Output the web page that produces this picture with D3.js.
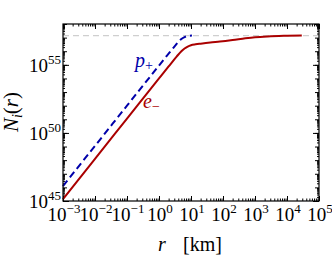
<!DOCTYPE html>
<html>
<head>
<meta charset="utf-8">
<script src="https://cdn.jsdelivr.net/npm/d3@7"></script>
<style>
  html, body { margin: 0; padding: 0; background: #fff; }
  svg, svg text { font-family: "Liberation Serif", "Times New Roman", serif; }
  svg { display: block; }
</style>
</head>
<body>
<svg id="chart" width="332" height="257" font-family="Liberation Serif, serif"></svg>
<script>
// radius [km] and particle number
const rElectron = [1e-3, 1e-2, 0.1, 1, 2, 3.55, 5, 6.3, 7.9, 10, 14, 20, 40, 80, 200, 500, 1e3, 2.5e3, 8e3, 2.9e4];
const nElectron = [1.4e45, 1.26e48, 1.12e51, 1.0e54, 7.6e54, 4.0e55, 1.0e56, 1.6e56, 2.2e56, 2.75e56, 3.2e56, 3.6e56, 4.4e56, 5.1e56, 6.6e56, 8.9e56, 1.07e57, 1.23e57, 1.35e57, 1.41e57];

const rProton = [1e-3, 1e-2, 0.1, 1, 1.78, 2.5, 3.16, 4, 5, 6.3, 7.9, 10.7];
const nProton = [1.26e46, 1.12e49, 1.0e52, 8.9e54, 4.8e55, 1.26e56, 2.5e56, 4.8e56, 7.9e56, 1.1e57, 1.32e57, 1.41e57];

const nTotal = 1.41e57;

const xTickExp = [-3, -2, -1, 0, 1, 2, 3, 4, 5];
const yTickExp = [45, 50, 55];

const redColor = '#aa0000';
const blueColor = '#0000aa';

const svg = d3.select('#chart');
const plotLeft = 63, plotRight = 319, plotTop = 24, plotBottom = 201;

const x = d3.scaleLog().domain([1e-3, 1e5]).range([plotLeft, plotRight]);
const y = d3.scaleLog().domain([1e45, 1e58]).range([plotBottom, plotTop]);

// minor ticks: 2..9 x 10^n
function decadeTicks(lo, hi) {
  const out = [];
  for (let e = lo; e < hi; e++) {
    for (let m = 2; m <= 9; m++) out.push(m * Math.pow(10, e));
  }
  return out;
}
const xMajor = d3.range(-3, 6).map(e => Math.pow(10, e));
const xMinor = decadeTicks(-3, 5);
const yMajor = d3.range(45, 59).map(e => Math.pow(10, e));
const yMinor = decadeTicks(45, 58);

const axes = svg.append('g').attr('class', 'axes');

function drawTicks(axisFn, scale, values, size, transform) {
  axes.append('g')
    .attr('transform', transform)
    .call(axisFn(scale).tickValues(values).tickSizeInner(-size).tickSizeOuter(0).tickFormat(''))
    .call(g => g.select('.domain').remove())
    .call(g => g.selectAll('line').attr('stroke', '#000').attr('stroke-width', 1));
}

drawTicks(d3.axisBottom, x, xMajor, 5, `translate(0,${plotBottom})`);
drawTicks(d3.axisBottom, x, xMinor, 2.5, `translate(0,${plotBottom})`);
drawTicks(d3.axisTop, x, xMajor, 5, `translate(0,${plotTop})`);
drawTicks(d3.axisTop, x, xMinor, 2.5, `translate(0,${plotTop})`);

const yLabelled = yMajor.filter(v => yTickExp.includes(Math.round(Math.log10(v))));
drawTicks(d3.axisLeft, y, yLabelled, 6, `translate(${plotLeft},0)`);
drawTicks(d3.axisLeft, y, yMajor, 4, `translate(${plotLeft},0)`);
drawTicks(d3.axisLeft, y, yMinor, 2, `translate(${plotLeft},0)`);
drawTicks(d3.axisRight, y, yLabelled, 6, `translate(${plotRight},0)`);
drawTicks(d3.axisRight, y, yMajor, 4, `translate(${plotRight},0)`);
drawTicks(d3.axisRight, y, yMinor, 2, `translate(${plotRight},0)`);

// saturation level
svg.append('line')
  .attr('x1', plotLeft).attr('x2', plotRight)
  .attr('y1', y(nTotal)).attr('y2', y(nTotal))
  .attr('stroke', '#cfcfcf')
  .attr('stroke-width', 1.2)
  .attr('stroke-dasharray', '6,4');

const line = d3.line()
  .x(d => x(d[0]))
  .y(d => y(d[1]))
  .curve(d3.curveMonotoneX);

svg.append('path')
  .datum(d3.zip(rElectron, nElectron))
  .attr('d', line)
  .attr('fill', 'none')
  .attr('stroke', redColor)
  .attr('stroke-width', 2);

svg.append('path')
  .datum(d3.zip(rProton, nProton))
  .attr('d', line)
  .attr('fill', 'none')
  .attr('stroke', blueColor)
  .attr('stroke-width', 2)
  .attr('stroke-dasharray', '7,4');

// frame
svg.append('rect')
  .attr('x', plotLeft).attr('y', plotTop)
  .attr('width', plotRight - plotLeft).attr('height', plotBottom - plotTop)
  .attr('fill', 'none')
  .attr('stroke', '#000')
  .attr('stroke-width', 1.2);

// tick labels
const expText = e => (e < 0 ? '\u2212' + Math.abs(e) : '' + e);

xTickExp.forEach(e => {
  const t = svg.append('text')
    .attr('x', x(Math.pow(10, e)) + 1)
    .attr('y', 221)
    .attr('text-anchor', 'middle')
    .attr('font-size', 19);
  t.append('tspan').text('10');
  t.append('tspan').attr('dy', -8).attr('font-size', 13).text(expText(e));
});

yTickExp.forEach(e => {
  const t = svg.append('text')
    .attr('x', 61)
    .attr('y', y(Math.pow(10, e)) + 7)
    .attr('text-anchor', 'end')
    .attr('font-size', 19);
  t.append('tspan').text('10');
  t.append('tspan').attr('dy', -8).attr('font-size', 13).text(expText(e));
});

// axis titles
const xt = svg.append('text')
  .attr('x', 158)
  .attr('y', 251)
  .attr('font-size', 20);
xt.append('tspan').attr('font-style', 'italic').text('r');
xt.append('tspan').attr('x', 183).text('[km]');

const yt = svg.append('text')
  .attr('transform', 'translate(18,112) rotate(-90)')
  .attr('text-anchor', 'middle')
  .attr('font-size', 21);
yt.append('tspan').attr('font-style', 'italic').text('N');
yt.append('tspan').attr('font-style', 'italic').attr('font-size', 14).attr('dy', 4).text('i');
yt.append('tspan').attr('dy', -4).text('(');
yt.append('tspan').attr('font-style', 'italic').text('r');
yt.append('tspan').text(')');

// curve labels
const pl = svg.append('text')
  .attr('x', 135).attr('y', 67)
  .attr('fill', blueColor)
  .attr('font-size', 20);
pl.append('tspan').attr('font-style', 'italic').text('p');
pl.append('tspan').attr('font-size', 14).attr('dy', 3).text('+');

const el = svg.append('text')
  .attr('x', 143).attr('y', 108)
  .attr('fill', redColor)
  .attr('font-size', 20);
el.append('tspan').attr('font-style', 'italic').text('e');
el.append('tspan').attr('font-size', 14).attr('dy', 3).text('\u2212');
</script>
</body>
</html>
